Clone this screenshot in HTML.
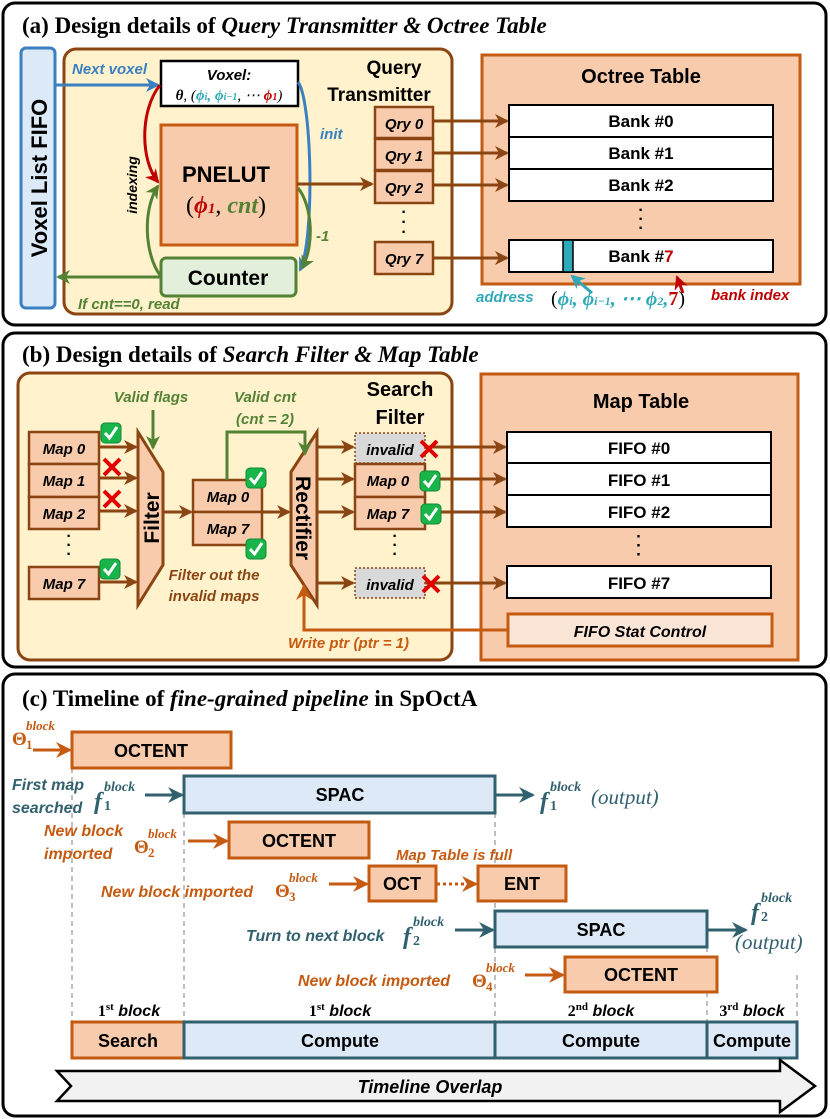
<!DOCTYPE html>
<html><head><meta charset="utf-8"><style>
html,body{margin:0;padding:0;background:#fff;}
svg{display:block;}
text{font-family:"Liberation Sans",sans-serif;}
.s{font-family:"Liberation Serif",serif;}
.b{font-weight:bold;}
.i{font-style:italic;}
</style></head><body>
<svg width="830" height="1119" viewBox="0 0 830 1119" xmlns="http://www.w3.org/2000/svg">
<defs>
<marker id="ab2" markerWidth="14" markerHeight="14" refX="12" refY="7" orient="auto" markerUnits="userSpaceOnUse"><path d="M0,0 L14,7 L0,14 L4,7z" fill="#8b4513"/></marker>
<marker id="abl" markerWidth="14" markerHeight="14" refX="12" refY="7" orient="auto" markerUnits="userSpaceOnUse"><path d="M0,0 L14,7 L0,14 L4,7z" fill="#3a7fc1"/></marker>
<marker id="ar" markerWidth="14" markerHeight="14" refX="12" refY="7" orient="auto" markerUnits="userSpaceOnUse"><path d="M0,0 L14,7 L0,14 L4,7z" fill="#c00000"/></marker>
<marker id="ag" markerWidth="14" markerHeight="14" refX="12" refY="7" orient="auto" markerUnits="userSpaceOnUse"><path d="M0,0 L14,7 L0,14 L4,7z" fill="#548235"/></marker>
<marker id="at" markerWidth="14" markerHeight="14" refX="12" refY="7" orient="auto" markerUnits="userSpaceOnUse"><path d="M0,0 L14,7 L0,14 L4,7z" fill="#2fa9b8"/></marker>
<marker id="ao" markerWidth="16" markerHeight="16" refX="14" refY="8" orient="auto" markerUnits="userSpaceOnUse"><path d="M0,0 L16,8 L0,16 L5,8z" fill="#c55a11"/></marker>
<marker id="ate" markerWidth="16" markerHeight="16" refX="14" refY="8" orient="auto" markerUnits="userSpaceOnUse"><path d="M0,0 L16,8 L0,16 L5,8z" fill="#31606e"/></marker>
<g id="ck"><rect x="0" y="0" width="20" height="20" rx="4" fill="#19b54a" stroke="#0f8a35"/><path d="M4,10 L8.5,15 L16,4" stroke="#fff" stroke-width="3" fill="none"/></g>
<g id="xx"><path d="M1,1 L17,17 M17,1 L1,17" stroke="#e00000" stroke-width="4"/></g>
</defs>

<!-- Panel A -->
<rect x="3" y="3" width="823" height="322" rx="12" fill="#fff" stroke="#000" stroke-width="3"/>
<text x="22" y="33" class="s b" font-size="23">(a) Design details of <tspan class="i">Query Transmitter &amp; Octree Table</tspan></text>
<rect x="21" y="48" width="34" height="260" rx="5" fill="#dce9f6" stroke="#3a7fc1" stroke-width="3"/>
<text transform="translate(47,178) rotate(-90)" text-anchor="middle" class="b" font-size="22">Voxel List FIFO</text>
<rect x="64" y="49" width="388" height="265" rx="12" fill="#fff2cc" stroke="#8b4513" stroke-width="3"/>
<rect x="161" y="61" width="137" height="45" fill="#fff" stroke="#000" stroke-width="2.5"/>
<text x="229" y="80" text-anchor="middle" class="b i" font-size="15">Voxel:</text>
<text x="229" y="100" text-anchor="middle" class="s i" font-size="15"><tspan class="b">θ</tspan>, (<tspan fill="#2fa9b8" class="b">ϕ<tspan font-size="10">i</tspan>, ϕ<tspan font-size="10">i−1</tspan></tspan>, ⋯ <tspan fill="#c00000" class="b">ϕ<tspan font-size="10">1</tspan></tspan>)</text>
<text x="72" y="74" fill="#3a7fc1" class="b i" font-size="15">Next voxel</text>
<line x1="55" y1="85" x2="158" y2="85" stroke="#3a7fc1" stroke-width="3" marker-end="url(#abl)"/>
<rect x="161" y="125" width="136" height="120" fill="#f8cbad" stroke="#c55a11" stroke-width="3"/>
<text x="226" y="182" text-anchor="middle" class="b" font-size="22">PNELUT</text>
<text x="226" y="213" text-anchor="middle" class="s" font-size="24">(<tspan fill="#c00000" class="b i">ϕ<tspan font-size="15">1</tspan></tspan>, <tspan fill="#548235" class="b i">cnt</tspan>)</text>
<rect x="161" y="258" width="135" height="38" rx="5" fill="#e2efda" stroke="#548235" stroke-width="3"/>
<text x="228" y="285" text-anchor="middle" class="b" font-size="21">Counter</text>
<path d="M160,85 C140,110 140,160 158,182" stroke="#c00000" stroke-width="3" fill="none" marker-end="url(#ar)"/>
<text transform="translate(137,185) rotate(-90)" text-anchor="middle" class="b i" font-size="14">indexing</text>
<path d="M160,275 C145,255 142,210 158,186" stroke="#548235" stroke-width="3" fill="none" marker-end="url(#ag)"/>
<path d="M298,82 C312,100 315,240 300,270" stroke="#3a7fc1" stroke-width="3" fill="none" marker-end="url(#abl)"/>
<text x="320" y="139" fill="#3a7fc1" class="b i" font-size="15">init</text>
<path d="M298,188 C312,205 315,245 302,268" stroke="#548235" stroke-width="3" fill="none" marker-end="url(#ag)"/>
<text x="316" y="241" fill="#548235" class="b i" font-size="15">-1</text>
<line x1="160" y1="277" x2="58" y2="277" stroke="#548235" stroke-width="3" marker-end="url(#ag)"/>
<text x="78" y="309" fill="#548235" class="b i" font-size="15">If cnt==0, read</text>
<line x1="297" y1="184" x2="372" y2="184" stroke="#8b4513" stroke-width="3" marker-end="url(#ab2)"/>
<text x="394" y="74" text-anchor="middle" class="b" font-size="19">Query</text>
<text x="379" y="101" text-anchor="middle" class="b" font-size="19">Transmitter</text>
<rect x="375" y="107" width="58" height="31" fill="#f8cbad" stroke="#8b4513" stroke-width="2.5"/><text x="404" y="129" text-anchor="middle" class="b i" font-size="15">Qry 0</text>
<rect x="375" y="139" width="58" height="31" fill="#f8cbad" stroke="#8b4513" stroke-width="2.5"/><text x="404" y="161" text-anchor="middle" class="b i" font-size="15">Qry 1</text>
<rect x="375" y="171" width="58" height="32" fill="#f8cbad" stroke="#8b4513" stroke-width="2.5"/><text x="404" y="193" text-anchor="middle" class="b i" font-size="15">Qry 2</text>
<rect x="375" y="242" width="58" height="32" fill="#f8cbad" stroke="#8b4513" stroke-width="2.5"/><text x="404" y="264" text-anchor="middle" class="b i" font-size="15">Qry 7</text>
<text x="404" y="217" text-anchor="middle" font-size="16" class="b">·</text><text x="404" y="227" text-anchor="middle" font-size="16" class="b">·</text><text x="404" y="237" text-anchor="middle" font-size="16" class="b">·</text>
<rect x="482" y="55" width="318" height="229" fill="#f8cbad" stroke="#c55a11" stroke-width="3"/>
<text x="641" y="83" text-anchor="middle" class="b" font-size="20">Octree Table</text>
<g stroke="#8b4513" stroke-width="3">
<line x1="433" y1="121" x2="507" y2="121" marker-end="url(#ab2)"/>
<line x1="433" y1="153" x2="507" y2="153" marker-end="url(#ab2)"/>
<line x1="433" y1="185" x2="507" y2="185" marker-end="url(#ab2)"/>
<line x1="433" y1="258" x2="507" y2="258" marker-end="url(#ab2)"/>
</g>
<g stroke="#000" stroke-width="2" fill="#fff">
<rect x="509" y="105" width="264" height="32"/><rect x="509" y="137" width="264" height="32"/><rect x="509" y="169" width="264" height="32"/><rect x="509" y="240" width="264" height="32"/>
</g>
<rect x="563" y="240" width="10" height="32" fill="#2fa9b8" stroke="#000" stroke-width="1.5"/>
<g font-size="17" class="b" text-anchor="middle">
<text x="641" y="127">Bank #0</text><text x="641" y="159">Bank #1</text><text x="641" y="191">Bank #2</text>
<text x="641" y="262">Bank #<tspan fill="#c00000">7</tspan></text>
</g>
<text x="641" y="215" text-anchor="middle" font-size="16" class="b">·</text><text x="641" y="224" text-anchor="middle" font-size="16" class="b">·</text><text x="641" y="233" text-anchor="middle" font-size="16" class="b">·</text>
<line x1="592" y1="293" x2="572" y2="276" stroke="#2fa9b8" stroke-width="3" marker-end="url(#at)"/>
<line x1="683" y1="293" x2="677" y2="277" stroke="#c00000" stroke-width="3" marker-end="url(#ar)"/>
<text x="476" y="302" fill="#2fa9b8" class="b i" font-size="15">address</text>
<text x="551" y="305" class="s" font-size="20">(<tspan fill="#2fa9b8" class="b i">ϕ<tspan font-size="12">i</tspan>, ϕ<tspan font-size="12">i−1</tspan>, ⋯ ϕ<tspan font-size="12">2</tspan>,</tspan><tspan fill="#c00000" class="b">7</tspan>)</text>
<text x="711" y="300" fill="#c00000" class="b i" font-size="15">bank index</text>

<!-- Panel B -->
<rect x="3" y="333" width="823" height="334" rx="12" fill="#fff" stroke="#000" stroke-width="3"/>
<text x="22" y="362" class="s b" font-size="23">(b) Design details of <tspan class="i">Search Filter &amp; Map Table</tspan></text>
<rect x="18" y="373" width="434" height="287" rx="12" fill="#fff2cc" stroke="#8b4513" stroke-width="3"/>
<rect x="481" y="374" width="317" height="286" fill="#f8cbad" stroke="#c55a11" stroke-width="3"/>
<text x="641" y="408" text-anchor="middle" class="b" font-size="20">Map Table</text>
<text x="400" y="396" text-anchor="middle" class="b" font-size="20">Search</text>
<text x="400" y="424" text-anchor="middle" class="b" font-size="20">Filter</text>
<text x="151" y="402" text-anchor="middle" fill="#548235" class="b i" font-size="15">Valid flags</text>
<text x="265" y="402" text-anchor="middle" fill="#548235" class="b i" font-size="15">Valid cnt</text>
<text x="265" y="424" text-anchor="middle" fill="#548235" class="b i" font-size="15">(cnt = 2)</text>
<rect x="29" y="432" width="70" height="32" fill="#f8cbad" stroke="#8b4513" stroke-width="2.5"/><text x="64" y="454" text-anchor="middle" class="b i" font-size="15">Map 0</text>
<rect x="29" y="464" width="70" height="33" fill="#f8cbad" stroke="#8b4513" stroke-width="2.5"/><text x="64" y="486" text-anchor="middle" class="b i" font-size="15">Map 1</text>
<rect x="29" y="497" width="70" height="32" fill="#f8cbad" stroke="#8b4513" stroke-width="2.5"/><text x="64" y="519" text-anchor="middle" class="b i" font-size="15">Map 2</text>
<rect x="29" y="567" width="70" height="32" fill="#f8cbad" stroke="#8b4513" stroke-width="2.5"/><text x="64" y="589" text-anchor="middle" class="b i" font-size="15">Map 7</text>
<rect x="193" y="480" width="69" height="32" fill="#f8cbad" stroke="#8b4513" stroke-width="2.5"/><text x="228" y="502" text-anchor="middle" class="b i" font-size="15">Map 0</text>
<rect x="193" y="512" width="69" height="33" fill="#f8cbad" stroke="#8b4513" stroke-width="2.5"/><text x="228" y="534" text-anchor="middle" class="b i" font-size="15">Map 7</text>
<rect x="355" y="433" width="70" height="30" fill="#d9d9d9" stroke="#8b4513" stroke-width="1.5" stroke-dasharray="2,2"/><text x="390" y="455" text-anchor="middle" class="b i" font-size="15">invalid</text>
<rect x="355" y="464" width="70" height="33" fill="#f8cbad" stroke="#8b4513" stroke-width="2.5"/><text x="388" y="486" text-anchor="middle" class="b i" font-size="15">Map 0</text>
<rect x="355" y="497" width="70" height="32" fill="#f8cbad" stroke="#8b4513" stroke-width="2.5"/><text x="388" y="519" text-anchor="middle" class="b i" font-size="15">Map 7</text>
<rect x="355" y="568" width="70" height="30" fill="#d9d9d9" stroke="#8b4513" stroke-width="1.5" stroke-dasharray="2,2"/><text x="390" y="590" text-anchor="middle" class="b i" font-size="15">invalid</text>
<g class="b" font-size="16" text-anchor="middle"><text x="69" y="541">·</text><text x="69" y="550">·</text><text x="69" y="559">·</text><text x="395" y="541">·</text><text x="395" y="550">·</text><text x="395" y="559">·</text></g>
<path d="M138,432 L138,605 L163,565 L163,472 Z" fill="#f8cbad" stroke="#8b4513" stroke-width="3"/>
<text transform="translate(159,518) rotate(-90)" text-anchor="middle" class="b" font-size="21">Filter</text>
<path d="M317,432 L317,605 L291,565 L291,472 Z" fill="#f8cbad" stroke="#8b4513" stroke-width="3"/>
<text transform="translate(296,518) rotate(90)" text-anchor="middle" class="b" font-size="21">Rectifier</text>
<g stroke="#8b4513" stroke-width="3">
<line x1="99" y1="447" x2="136" y2="447" marker-end="url(#ab2)"/>
<line x1="99" y1="478" x2="136" y2="478" marker-end="url(#ab2)"/>
<line x1="99" y1="511" x2="136" y2="511" marker-end="url(#ab2)"/>
<line x1="99" y1="582" x2="136" y2="582" marker-end="url(#ab2)"/>
<line x1="163" y1="512" x2="191" y2="512" marker-end="url(#ab2)"/>
<line x1="262" y1="512" x2="289" y2="512" marker-end="url(#ab2)"/>
<line x1="317" y1="447" x2="353" y2="447" marker-end="url(#ab2)"/>
<line x1="317" y1="479" x2="353" y2="479" marker-end="url(#ab2)"/>
<line x1="317" y1="512" x2="353" y2="512" marker-end="url(#ab2)"/>
<line x1="317" y1="583" x2="353" y2="583" marker-end="url(#ab2)"/>
<line x1="425" y1="447" x2="505" y2="447" marker-end="url(#ab2)"/>
<line x1="425" y1="479" x2="505" y2="479" marker-end="url(#ab2)"/>
<line x1="425" y1="512" x2="505" y2="512" marker-end="url(#ab2)"/>
<line x1="425" y1="583" x2="505" y2="583" marker-end="url(#ab2)"/>
</g>
<line x1="153" y1="410" x2="153" y2="448" stroke="#548235" stroke-width="3" marker-end="url(#ag)"/>
<path d="M227,480 L227,432 L305,432 L305,454" stroke="#548235" stroke-width="3" fill="none" marker-end="url(#ag)"/>
<path d="M508,630 L304,630 L304,586" stroke="#c55a11" stroke-width="3" fill="none" marker-end="url(#ao)"/>
<text x="288" y="648" fill="#c55a11" class="b i" font-size="15">Write ptr (ptr = 1)</text>
<text x="214" y="580" text-anchor="middle" fill="#8b4513" class="b i" font-size="15">Filter out the</text>
<text x="214" y="601" text-anchor="middle" fill="#8b4513" class="b i" font-size="15">invalid maps</text>
<use href="#ck" x="101" y="423"/><use href="#xx" x="103" y="458"/><use href="#xx" x="103" y="490"/><use href="#ck" x="100" y="559"/>
<use href="#ck" x="246" y="468"/><use href="#ck" x="246" y="539"/>
<use href="#xx" x="420" y="440"/><use href="#ck" x="420" y="471"/><use href="#ck" x="421" y="504"/><use href="#xx" x="422" y="575"/>
<g stroke="#000" stroke-width="2" fill="#fff">
<rect x="507" y="432" width="264" height="31"/><rect x="507" y="463" width="264" height="32"/><rect x="507" y="495" width="264" height="32"/><rect x="507" y="566" width="264" height="32"/>
</g>
<g class="b" font-size="17" text-anchor="middle"><text x="639" y="454">FIFO #0</text><text x="639" y="486">FIFO #1</text><text x="639" y="518">FIFO #2</text><text x="639" y="589">FIFO #7</text>
<text x="639" y="542">·</text><text x="639" y="551">·</text><text x="639" y="560">·</text></g>
<rect x="508" y="614" width="264" height="32" fill="#fbe5d6" stroke="#c55a11" stroke-width="3"/>
<text x="640" y="637" text-anchor="middle" class="b i" font-size="16">FIFO Stat Control</text>

<!-- Panel C -->
<rect x="3" y="674" width="823" height="442" rx="12" fill="#fff" stroke="#000" stroke-width="3"/>
<text x="22" y="706" class="s b" font-size="23">(c) Timeline of <tspan class="i">fine-grained pipeline</tspan> in SpOctA</text>
<g stroke="#aaa" stroke-width="1.5" stroke-dasharray="5,4">
<line x1="72" y1="768" x2="72" y2="1022"/><line x1="184" y1="813" x2="184" y2="1022"/><line x1="495" y1="813" x2="495" y2="1022"/><line x1="707" y1="947" x2="707" y2="1022"/><line x1="797" y1="975" x2="797" y2="1022"/>
</g>
<g stroke-width="3">
<rect x="72" y="732" width="159" height="36" fill="#f8cbad" stroke="#c55a11"/>
<rect x="184" y="776" width="311" height="37" fill="#dde9f6" stroke="#31606e"/>
<rect x="229" y="822" width="140" height="36" fill="#f8cbad" stroke="#c55a11"/>
<rect x="369" y="866" width="67" height="35" fill="#f8cbad" stroke="#c55a11"/>
<rect x="478" y="866" width="88" height="35" fill="#f8cbad" stroke="#c55a11"/>
<rect x="495" y="911" width="212" height="36" fill="#dde9f6" stroke="#31606e"/>
<rect x="565" y="957" width="152" height="35" fill="#f8cbad" stroke="#c55a11"/>
<rect x="72" y="1022" width="112" height="36" fill="#f8cbad" stroke="#c55a11"/>
<rect x="184" y="1022" width="311" height="36" fill="#dde9f6" stroke="#31606e"/>
<rect x="495" y="1022" width="212" height="36" fill="#dde9f6" stroke="#31606e"/>
<rect x="707" y="1022" width="90" height="36" fill="#dde9f6" stroke="#31606e"/>
</g>
<g class="b" font-size="18" text-anchor="middle">
<text x="151" y="757">OCTENT</text><text x="340" y="801">SPAC</text><text x="299" y="847">OCTENT</text>
<text x="402" y="890">OCT</text><text x="522" y="890">ENT</text><text x="601" y="936">SPAC</text><text x="641" y="981">OCTENT</text>
<text x="128" y="1047">Search</text><text x="340" y="1047">Compute</text><text x="601" y="1047">Compute</text><text x="752" y="1047">Compute</text>
</g>
<g class="b i" font-size="16" text-anchor="middle">
<text x="129" y="1016"><tspan font-style="normal" class="s">1<tspan font-size="11" dy="-6">st</tspan></tspan><tspan dy="6"> block</tspan></text>
<text x="340" y="1016"><tspan font-style="normal" class="s">1<tspan font-size="11" dy="-6">st</tspan></tspan><tspan dy="6"> block</tspan></text>
<text x="601" y="1016"><tspan font-style="normal" class="s">2<tspan font-size="11" dy="-6">nd</tspan></tspan><tspan dy="6"> block</tspan></text>
<text x="752" y="1016"><tspan font-style="normal" class="s">3<tspan font-size="11" dy="-6">rd</tspan></tspan><tspan dy="6"> block</tspan></text>
</g>
<path d="M57,1071 L780,1071 L780,1060 L815,1086 L780,1112 L780,1101 L57,1101 L71,1086 Z" fill="#f2f2f2" stroke="#000" stroke-width="2.5"/>
<text x="430" y="1093" text-anchor="middle" class="b i" font-size="18">Timeline Overlap</text>
<g stroke-width="3">
<line x1="33" y1="750" x2="70" y2="750" stroke="#c55a11" marker-end="url(#ao)"/>
<line x1="145" y1="795" x2="182" y2="795" stroke="#31606e" marker-end="url(#ate)"/>
<line x1="495" y1="795" x2="533" y2="795" stroke="#31606e" marker-end="url(#ate)"/>
<line x1="188" y1="841" x2="227" y2="841" stroke="#c55a11" marker-end="url(#ao)"/>
<line x1="329" y1="884" x2="367" y2="884" stroke="#c55a11" marker-end="url(#ao)"/>
<line x1="437" y1="884" x2="476" y2="884" stroke="#c55a11" stroke-dasharray="3,3" marker-end="url(#ao)"/>
<line x1="455" y1="930" x2="493" y2="930" stroke="#31606e" marker-end="url(#ate)"/>
<line x1="707" y1="930" x2="746" y2="930" stroke="#31606e" marker-end="url(#ate)"/>
<line x1="525" y1="975" x2="563" y2="975" stroke="#c55a11" marker-end="url(#ao)"/>
</g>
<g class="b i" font-size="16">
<!-- Theta1 -->
<text x="12" y="745" fill="#c55a11" class="s" font-style="normal" font-size="19">Θ</text>
<text x="26" y="730" fill="#c55a11" class="s" font-size="13">block</text>
<text x="26" y="749" fill="#c55a11" class="s" font-style="normal" font-size="13">1</text>
<text x="12" y="790" fill="#31606e">First map</text><text x="12" y="813" fill="#31606e">searched</text>
<text x="94" y="809" fill="#31606e" class="s" font-size="24">f</text>
<text x="104" y="791" fill="#31606e" class="s" font-size="14">block</text>
<text x="104" y="810" fill="#31606e" class="s" font-style="normal" font-size="14">1</text>
<text x="540" y="809" fill="#31606e" class="s" font-size="24">f</text>
<text x="550" y="791" fill="#31606e" class="s" font-size="14">block</text>
<text x="550" y="810" fill="#31606e" class="s" font-style="normal" font-size="14">1</text>
<text x="591" y="804" fill="#31606e" class="s" font-weight="normal" font-size="21">(output)</text>
<text x="44" y="836" fill="#c55a11">New block</text><text x="44" y="859" fill="#c55a11">imported</text>
<text x="134" y="853" fill="#c55a11" class="s" font-style="normal" font-size="19">Θ</text>
<text x="148" y="838" fill="#c55a11" class="s" font-size="13">block</text>
<text x="148" y="857" fill="#c55a11" class="s" font-style="normal" font-size="13">2</text>
<text x="396" y="860" fill="#c55a11" font-size="15">Map Table is full</text>
<text x="101" y="897" fill="#c55a11">New block imported</text>
<text x="275" y="897" fill="#c55a11" class="s" font-style="normal" font-size="19">Θ</text>
<text x="289" y="882" fill="#c55a11" class="s" font-size="13">block</text>
<text x="289" y="901" fill="#c55a11" class="s" font-style="normal" font-size="13">3</text>
<text x="246" y="941" fill="#31606e">Turn to next block</text>
<text x="403" y="944" fill="#31606e" class="s" font-size="24">f</text>
<text x="413" y="926" fill="#31606e" class="s" font-size="14">block</text>
<text x="413" y="945" fill="#31606e" class="s" font-style="normal" font-size="14">2</text>
<text x="751" y="920" fill="#31606e" class="s" font-size="24">f</text>
<text x="761" y="902" fill="#31606e" class="s" font-size="14">block</text>
<text x="761" y="921" fill="#31606e" class="s" font-style="normal" font-size="14">2</text>
<text x="735" y="949" fill="#31606e" class="s" font-weight="normal" font-size="21">(output)</text>
<text x="298" y="986" fill="#c55a11">New block imported</text>
<text x="472" y="987" fill="#c55a11" class="s" font-style="normal" font-size="19">Θ</text>
<text x="486" y="972" fill="#c55a11" class="s" font-size="13">block</text>
<text x="486" y="991" fill="#c55a11" class="s" font-style="normal" font-size="13">4</text>
</g>
</svg>
</body></html>
